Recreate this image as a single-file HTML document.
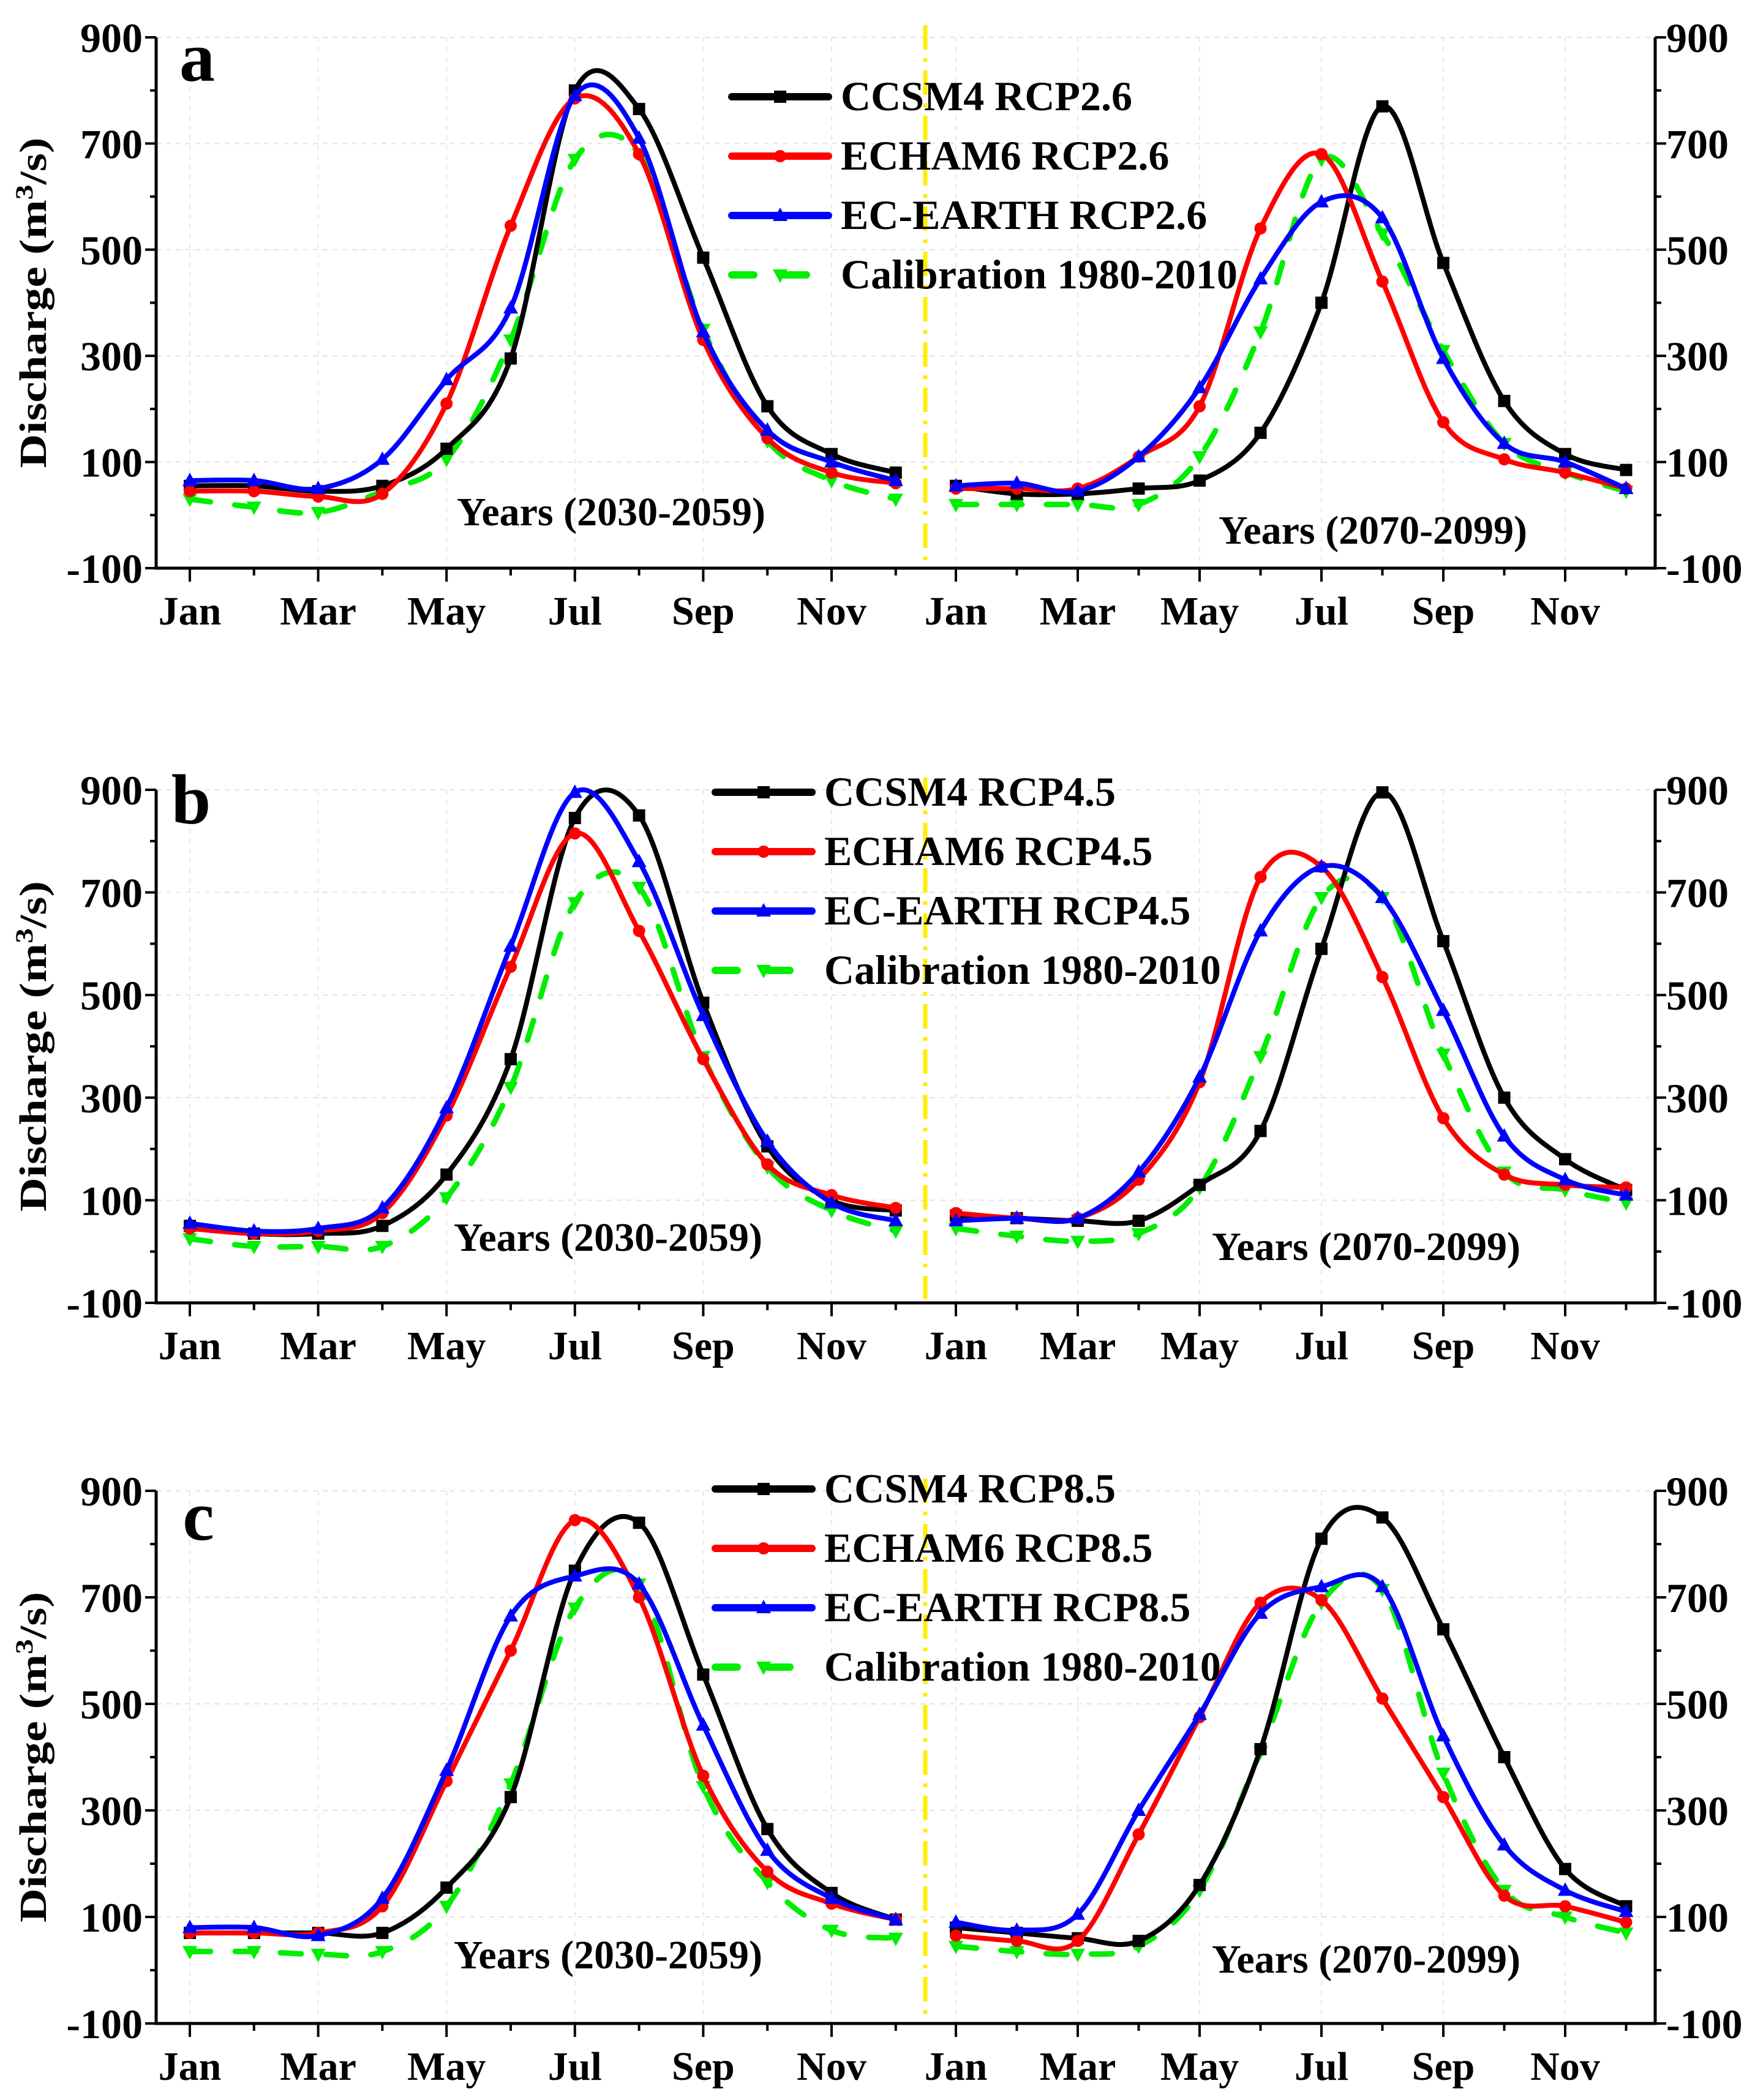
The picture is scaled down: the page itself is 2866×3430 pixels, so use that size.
<!DOCTYPE html>
<html><head><meta charset="utf-8"><style>
html,body{margin:0;padding:0;background:#fff;}
svg{display:block;font-family:"Liberation Serif",serif;font-weight:bold;}
</style></head><body>
<svg id="chart" width="2866" height="3430" viewBox="0 0 2866 3430" xmlns="http://www.w3.org/2000/svg"></svg>
<script>
// ---- data ----
const months = ["Jan","Feb","Mar","Apr","May","Jun","Jul","Aug","Sep","Oct","Nov","Dec"];
const monthLabels = ["Jan","Mar","May","Jul","Sep","Nov"];
const yTickLabels = [-100,100,300,500,700,900];
const panelLetters = ["a","b","c"];
const scenarios = ["RCP2.6","RCP4.5","RCP8.5"];
// panel a
const aL_ccsm = [55,55,45,55,125,295,800,765,485,205,115,80];
const aL_echam = [45,45,35,40,210,545,785,680,330,145,80,60];
const aL_ecearth = [65,65,50,105,255,390,790,710,345,160,100,65];
const aL_calib = [30,15,5,45,105,330,670,680,350,140,65,30];
const aR_ccsm = [55,40,40,50,65,155,400,770,475,215,115,85];
const aR_echam = [50,50,50,110,205,540,680,440,175,105,80,50];
const aR_ecearth = [55,60,45,110,240,445,590,560,295,135,100,50];
const aR_calib = [20,20,20,20,110,345,670,530,310,135,80,45];
// panel b
const bL_ccsm = [50,35,35,50,150,375,845,850,485,205,100,80];
const bL_echam = [45,35,40,75,265,555,815,625,375,170,110,85];
const bL_ecearth = [55,40,45,85,280,595,895,760,460,215,95,60];
const bL_calib = [25,10,10,10,105,320,680,710,380,165,80,40];
const bR_ccsm = [70,65,60,60,130,235,590,895,605,300,180,120];
const bR_echam = [75,65,65,140,330,730,750,535,260,150,130,125];
const bR_ecearth = [60,65,65,155,340,625,750,690,470,225,140,110];
const bR_calib = [45,30,20,35,125,380,690,690,385,155,120,95];
// panel c
const cL_ccsm = [70,70,70,70,155,325,750,840,555,265,145,95];
const cL_echam = [70,70,70,120,355,600,845,700,365,185,125,95];
const cL_ecearth = [80,80,65,135,375,665,740,725,460,225,135,95];
const cL_calib = [35,35,30,35,120,350,680,725,345,165,75,60];
const cR_ccsm = [80,70,60,55,160,415,810,850,640,400,190,120];
const cR_echam = [65,55,55,255,475,690,695,510,325,140,120,90];
const cR_ecearth = [90,75,105,300,480,670,720,720,440,235,150,110];
const cR_calib = [45,35,30,45,150,410,690,715,370,150,100,70];

const panelSeries = [
 [[aL_ccsm,aL_echam,aL_ecearth,aL_calib],[aR_ccsm,aR_echam,aR_ecearth,aR_calib]],
 [[bL_ccsm,bL_echam,bL_ecearth,bL_calib],[bR_ccsm,bR_echam,bR_ecearth,bR_calib]],
 [[cL_ccsm,cL_echam,cL_ecearth,cL_calib],[cR_ccsm,cR_echam,cR_ecearth,cR_calib]]
];
const seriesNames = ["ccsm4","echam6","ec-earth","calibration"];

const NS="http://www.w3.org/2000/svg";
const svg=document.getElementById("chart");
function mk(tag,attrs,parent,text){const e=document.createElementNS(NS,tag);for(const k in attrs)e.setAttribute(k,attrs[k]);if(text!==undefined)e.textContent=text;(parent||svg).appendChild(e);return e;}

const panels=[{y900:61,y100n:928,legX:1195,legY:180,letter:[322,132],yrL:[998,858],yrR:[2242,888]},
 {y900:1290,y100n:2128,legX:1168,legY:1316,letter:[312,1345],yrL:[993,2043],yrR:[2231,2058]},
 {y900:2435,y100n:3305,legX:1168,legY:2454,letter:[324,2515],yrL:[993,3215],yrR:[2231,3222]}];
const xL0=255,xR1=2703,div=1511;
const leftJan=310,leftStep=104.8,rightJan=1561,rightStep=99.5;
const colors=["#000","#ff0000","#0000ff","#00ee00"];

function smoothPath(pts){
 let d="M"+pts[0][0]+","+pts[0][1];
 for(let i=0;i<pts.length-1;i++){
  const p0=pts[Math.max(0,i-1)],p1=pts[i],p2=pts[i+1],p3=pts[Math.min(pts.length-1,i+2)];
  const c1x=p1[0]+(p2[0]-p0[0])/6,c1y=p1[1]+(p2[1]-p0[1])/6;
  const c2x=p2[0]-(p3[0]-p1[0])/6,c2y=p2[1]-(p3[1]-p1[1])/6;
  d+=" C"+c1x.toFixed(1)+","+c1y.toFixed(1)+" "+c2x.toFixed(1)+","+c2y.toFixed(1)+" "+p2[0].toFixed(1)+","+p2[1].toFixed(1);
 }
 return d;
}
function marker(g,k,x,y){
 const c=colors[k];let m;
 if(k===0)m=mk("rect",{x:x-10,y:y-10,width:20,height:20,fill:c},g);
 else if(k===1)m=mk("circle",{cx:x,cy:y,r:10,fill:c},g);
 else if(k===2)m=mk("polygon",{points:`${x},${y-13} ${x-12},${y+9} ${x+12},${y+9}`,fill:c},g);
 else m=mk("polygon",{points:`${x-12},${y-9} ${x+12},${y-9} ${x},${y+13}`,fill:c},g);
 
 
}

panels.forEach((P,pi)=>{
 const g=mk("g",{});
 
 
 const yS=v=>P.y900+(900-v)*(P.y100n-P.y900)/1000;
 const xL=i=>leftJan+i*leftStep, xR=i=>rightJan+i*rightStep;
 for(let v=-100;v<=900;v+=200) if(v>-100) mk("line",{x1:xL0,x2:xR1,y1:yS(v),y2:yS(v),stroke:"#e4e4e4","stroke-width":2,"stroke-dasharray":"8,8"},g);
 for(let i=0;i<12;i+=2){mk("line",{x1:xL(i),x2:xL(i),y1:yS(900),y2:yS(-100),stroke:"#e8e8e8","stroke-width":2,"stroke-dasharray":"8,8"},g);mk("line",{x1:xR(i),x2:xR(i),y1:yS(900),y2:yS(-100),stroke:"#e8e8e8","stroke-width":2,"stroke-dasharray":"8,8"},g);}
 const ax=mk("path",{d:`M${xL0},${yS(900)} V${yS(-100)} H${xR1} V${yS(900)}`,fill:"none",stroke:"#000","stroke-width":5},g);
 
 for(let v=-100;v<=900;v+=100){const y=yS(v),len=(v+100)%200===0?18:10;
  mk("line",{x1:xL0-len,x2:xL0,y1:y,y2:y,stroke:"#000","stroke-width":4},g);
  mk("line",{x1:xR1,x2:xR1+len,y1:y,y2:y,stroke:"#000","stroke-width":4},g);}
 yTickLabels.forEach(v=>{
  const t=mk("text",{x:xL0-22,y:yS(v)+24,"text-anchor":"end","font-size":68},g,String(v));
  
  const t2=mk("text",{x:xR1+18,y:yS(v)+24,"text-anchor":"start","font-size":68},g,String(v));
  
 });
 for(let i=0;i<12;i++){const len=i%2===0?22:12;
  mk("line",{x1:xL(i),x2:xL(i),y1:yS(-100),y2:yS(-100)+len,stroke:"#000","stroke-width":4},g);
  mk("line",{x1:xR(i),x2:xR(i),y1:yS(-100),y2:yS(-100)+len,stroke:"#000","stroke-width":4},g);}
 monthLabels.forEach((m,j)=>{
  const t=mk("text",{x:xL(j*2),y:yS(-100)+92,"text-anchor":"middle","font-size":66},g,m);
  
  const t2=mk("text",{x:xR(j*2),y:yS(-100)+92,"text-anchor":"middle","font-size":66},g,m);
  
 });
 const dv=mk("line",{x1:div,x2:div,y1:yS(900)-20,y2:yS(-100)-6,stroke:"#ffee00","stroke-width":7,"stroke-dasharray":"40,14,6,14"},g);
 
 const cy=(yS(900)+yS(-100))/2;
 const yt=mk("text",{x:0,y:0,transform:`translate(75,${cy}) rotate(-90)`,"text-anchor":"middle","font-size":62,textLength:540,lengthAdjust:"spacingAndGlyphs"},g);
 
 yt.textContent="Discharge (m";
 mk("tspan",{"baseline-shift":"super","font-size":40},yt,"3");
 mk("tspan",{},yt,"/s)");
 const lt=mk("text",{x:P.letter[0],y:P.letter[1],"text-anchor":"middle","font-size":116},g,panelLetters[pi]);
 
 const y1=mk("text",{x:P.yrL[0],y:P.yrL[1],"text-anchor":"middle","font-size":66},g,"Years (2030-2059)");
 
 const y2=mk("text",{x:P.yrR[0],y:P.yrR[1],"text-anchor":"middle","font-size":66},g,"Years (2070-2099)");
 
 [0,1].forEach(half=>{
  const xf=half===0?xL:xR;
  [3,0,1,2].forEach(k=>{
   const vals=panelSeries[pi][half][k];
   const pts=vals.map((v,i)=>[xf(i),yS(v)]);
   const sg=mk("g",{},g);
   
   
   const attrs={d:smoothPath(pts),fill:"none",stroke:colors[k],"stroke-width":k===3?9:8,"stroke-linecap":"round"};
   if(k===3)attrs["stroke-dasharray"]="34,40";
   const p=mk("path",attrs,sg);
   
   
   pts.forEach(pt=>marker(sg,k,pt[0],pt[1]));
  });
 });
 const lg=mk("g",{},g);
 
 const labs=["CCSM4 "+scenarios[pi],"ECHAM6 "+scenarios[pi],"EC-EARTH "+scenarios[pi],"Calibration 1980-2010"];
 labs.forEach((s,k)=>{
  const y=P.legY+k*97;
  const e=mk("g",{},lg);
  
  const la={x1:P.legX,x2:P.legX+158,y1:y-22,y2:y-22,stroke:colors[k],"stroke-width":12,"stroke-linecap":"round"};
  if(k===3)la["stroke-dasharray"]="36,50";
  mk("line",la,e);
  marker(e,k,P.legX+79,y-22);
  mk("text",{x:P.legX+178,y:y,"font-size":68},e,s);
 });
});
</script>
</body></html>
